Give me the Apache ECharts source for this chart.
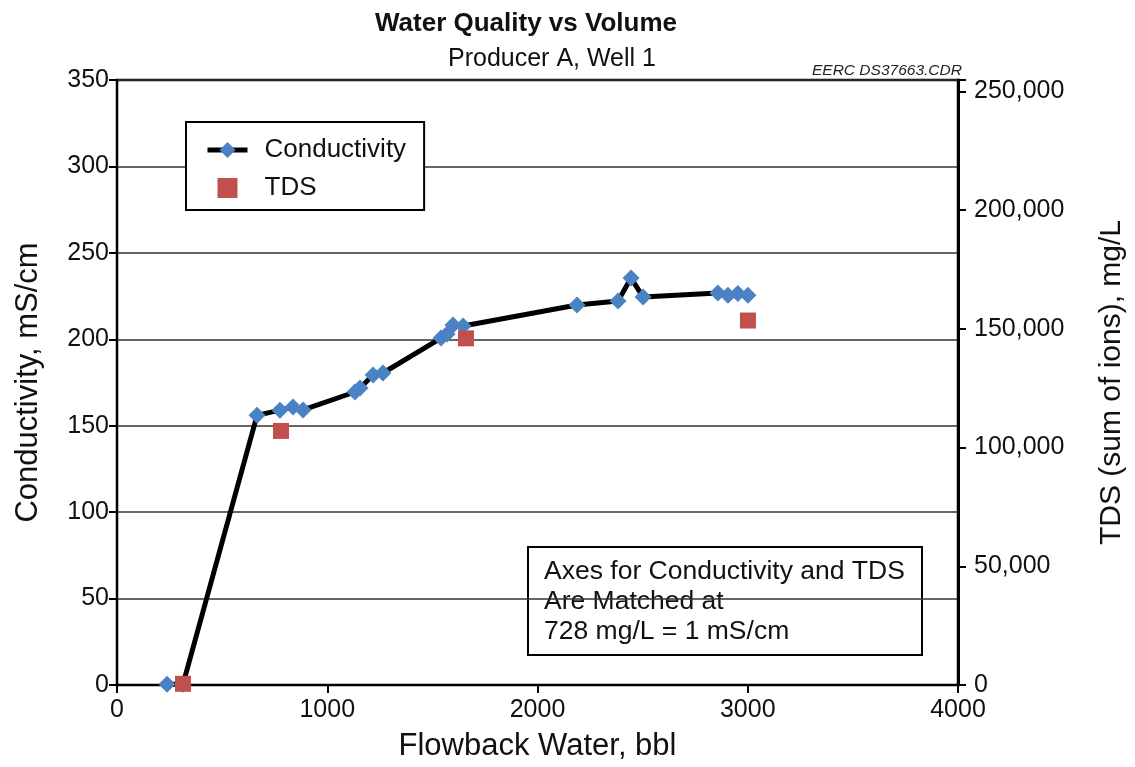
<!DOCTYPE html>
<html>
<head>
<meta charset="UTF-8">
<title>Water Quality vs Volume</title>
<script src="https://cdn.jsdelivr.net/npm/echarts@6/dist/echarts.min.js"></script>
<style>
  body { margin: 0; background: #fff; }
  #main { width: 1135px; height: 767px; }
</style>
</head>
<body>
<div id="main"></div>
<script>
// conductivity samples (flowback bbl, mS/cm)
var condFlowback = [238, 314, 666, 775, 837, 885, 1132, 1156, 1218, 1265, 1541, 1570, 1598, 1646, 2188, 2383, 2445, 2502, 2858, 2906, 2953, 3001];
var conductivity = [0.5, 0.5, 156, 159, 160.8, 159.1, 169.5, 171.8, 179.3, 180.5, 200.7, 203, 208.3, 207.7, 219.8, 222.1, 235.4, 224.5, 226.8, 225.5, 226.5, 225.5];
// TDS samples (flowback bbl, mg/L)
var tdsFlowback = [314, 780, 1660, 3001];
var tds = [500, 107000, 146000, 153500];

var xTicks = [0, 1000, 2000, 3000, 4000];
var ratio = 728; // mg/L per mS/cm
var condMax = 350;

var font = 'Liberation Sans, Arial, Helvetica, sans-serif';
var blue = '#4a82c4';
var red = '#c0504d';

var chart = echarts.init(document.getElementById('main'));

var option = {
    animation: false,
    backgroundColor: '#fff',
    title: [{
        text: 'Water Quality vs Volume',
        left: 370, top: 6,
        textStyle: { fontFamily: font, fontSize: 26, fontWeight: 'bold', color: '#111' }
    }, {
        text: 'Producer A, Well 1',
        left: 443, top: 42,
        textStyle: { fontFamily: font, fontSize: 25, fontWeight: 'normal', color: '#111' }
    }, {
        text: 'EERC DS37663.CDR',
        left: 807, top: 58,
        textStyle: { fontFamily: font, fontSize: 15.5, fontStyle: 'italic', fontWeight: 'normal', color: '#222' }
    }],
    legend: {
        orient: 'vertical',
        left: 186, top: 122,
        padding: [15, 18, 9, 19],
        itemGap: 12,
        itemWidth: 40,
        itemHeight: 20,
        borderColor: '#000',
        borderWidth: 2,
        backgroundColor: '#fff',
        textStyle: { fontFamily: font, fontSize: 26, color: '#111', padding: [0, 0, 0, 12] },
        data: [{
            name: 'Conductivity',
            lineStyle: { width: 5, color: '#000' }
        }, {
            name: 'TDS',
            icon: 'path://M0,0H10V10H0Z'
        }]
    },
    grid: {
        left: 117, right: 177, top: 80, bottom: 82,
        show: true, borderColor: '#000', borderWidth: 2.5
    },
    xAxis: {
        type: 'value',
        min: xTicks[0], max: xTicks[xTicks.length - 1], interval: 1000,
        name: 'Flowback Water, bbl',
        nameLocation: 'middle', nameGap: 46,
        nameTextStyle: { fontFamily: font, fontSize: 31, color: '#111' },
        axisLine: { lineStyle: { color: '#000', width: 2 } },
        axisTick: { show: true, length: 8, lineStyle: { color: '#000', width: 2 } },
        axisLabel: {
            fontFamily: font, fontSize: 25, color: '#111', margin: 13,
            formatter: function (v) { return String(v); }
        },
        splitLine: { show: false }
    },
    yAxis: [{
        type: 'value',
        min: 0, max: condMax, interval: 50,
        name: 'Conductivity, mS/cm',
        nameLocation: 'middle', nameGap: 73,
        nameTextStyle: { fontFamily: font, fontSize: 31, color: '#111' },
        axisLine: { show: true, lineStyle: { color: '#000', width: 2 } },
        axisTick: { show: true, length: 8, lineStyle: { color: '#000', width: 2 } },
        axisLabel: { fontFamily: font, fontSize: 25, color: '#111', margin: 8 },
        splitLine: { show: true, lineStyle: { color: '#333', width: 1.5 } }
    }, {
        type: 'value',
        position: 'right',
        min: 0, max: condMax * ratio, interval: 50000,
        name: 'TDS (sum of ions), mg/L',
        nameLocation: 'middle', nameGap: 139,
        nameRotate: 90,
        nameTextStyle: { fontFamily: font, fontSize: 30, color: '#111' },
        axisLine: { show: true, lineStyle: { color: '#000', width: 3 } },
        axisTick: { show: true, length: 8, lineStyle: { color: '#000', width: 2 } },
        axisLabel: {
            fontFamily: font, fontSize: 25, color: '#111', margin: 16,
            formatter: function (v) {
                return v % 50000 === 0 ? v.toLocaleString('en-US') : '';
            }
        },
        splitLine: { show: false }
    }],
    graphic: [{
        type: 'group',
        left: 527, top: 546,
        children: [{
            type: 'rect',
            shape: { x: 0, y: 0, width: 394, height: 108 },
            style: { fill: '#fff', stroke: '#000', lineWidth: 2 }
        }, {
            type: 'text',
            left: 16, top: 10,
            style: {
                text: 'Axes for Conductivity and TDS\nAre Matched at\n728 mg/L = 1 mS/cm',
                font: '26.5px ' + font,
                lineHeight: 30,
                fill: '#111'
            }
        }]
    }],
    series: [{
        name: 'Conductivity',
        type: 'line',
        yAxisIndex: 0,
        data: condFlowback.map(function (x, i) { return [x, conductivity[i]]; }),
        symbol: 'diamond',
        symbolSize: 17,
        showAllSymbol: true,
        lineStyle: { color: '#000', width: 5 },
        itemStyle: { color: blue, borderWidth: 0 },
        z: 3
    }, {
        name: 'TDS',
        type: 'scatter',
        yAxisIndex: 1,
        data: tdsFlowback.map(function (x, i) { return [x, tds[i]]; }),
        symbol: 'rect',
        symbolSize: 16,
        symbolKeepAspect: true,
        itemStyle: { color: red, opacity: 1 },
        z: 4
    }]
};

chart.setOption(option);
</script>
</body>
</html>
